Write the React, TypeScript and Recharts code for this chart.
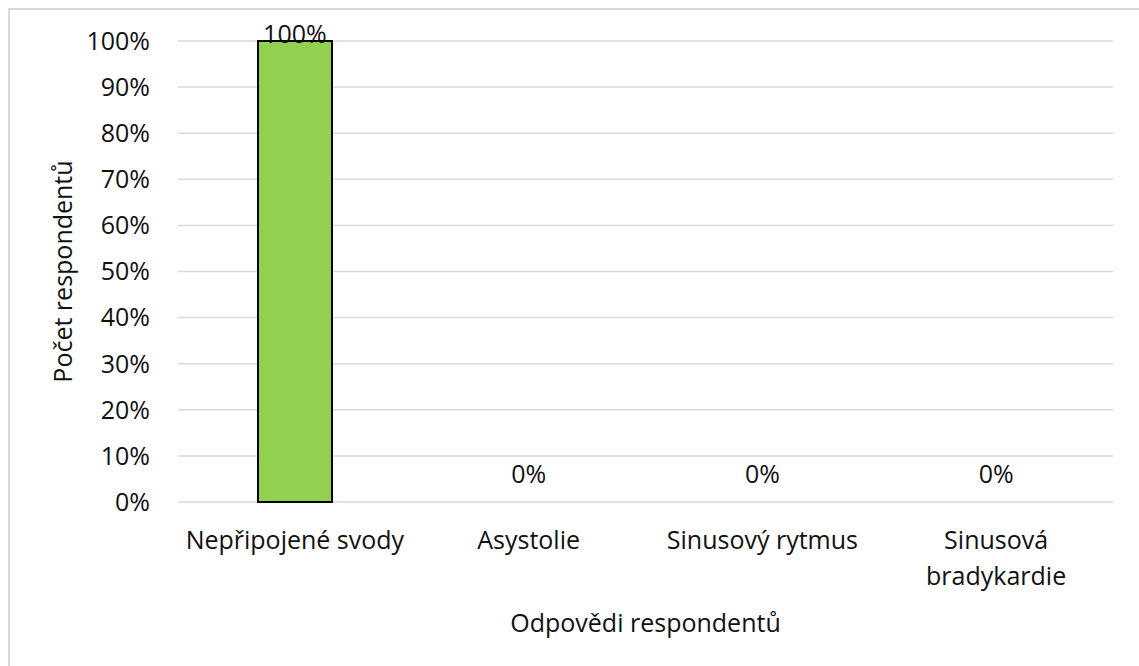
import { ComposedChart, Bar, Line, XAxis, YAxis, CartesianGrid, LabelList, Label } from "recharts"

const categories = ["Nepřipojené svody", "Asystolie", "Sinusový rytmus", "Sinusová bradykardie"]
const shares = [100, 0, 0, 0]
const yTicks = [0, 10, 20, 30, 40, 50, 60, 70, 80, 90, 100]

const data = categories.map((name, i) => ({ name, value: shares[i] }))

const font = "'Open Sans', sans-serif"
const fontSize = 25
const textColor = "#111"

// crude word wrap, Excel breaks the long label into two lines
function wrap(label: string, maxChars = 17) {
  const lines: string[] = []
  let cur = ""
  for (const w of label.split(" ")) {
    const next = cur ? cur + " " + w : w
    if (next.length > maxChars && cur) {
      lines.push(cur)
      cur = w
    } else {
      cur = next
    }
  }
  if (cur) lines.push(cur)
  return lines
}

function XTick(props: any) {
  const { x, y, payload } = props
  const lines = wrap(payload.value)
  return (
    <text x={x} y={y + 39} textAnchor="middle" fontFamily={font} fontSize={fontSize} fill={textColor}>
      {lines.map((l, i) => (
        <tspan key={i} x={x} dy={i === 0 ? 0 : 36}>
          {l}
        </tspan>
      ))}
    </text>
  )
}

function PointValue(props: any) {
  const { x, y, value } = props
  const cy = value === 0 ? y - 29 : y - 8
  return (
    <text
      x={x}
      y={cy}
      textAnchor="middle"
      dominantBaseline="central"
      fontFamily={font}
      fontSize={fontSize}
      fill={textColor}
    >
      {value}%
    </text>
  )
}

function YTitle(props: any) {
  const { viewBox } = props
  const cx = viewBox.x + 4
  const cy = viewBox.y + viewBox.height / 2
  return (
    <text
      x={cx}
      y={cy}
      transform={`rotate(-90 ${cx} ${cy})`}
      textAnchor="middle"
      dominantBaseline="central"
      fontFamily={font}
      fontSize={fontSize}
      fill={textColor}
    >
      Počet respondentů
    </text>
  )
}

function XTitle(props: any) {
  const { viewBox } = props
  const cx = viewBox.x + viewBox.width / 2
  return (
    <text
      x={cx}
      y={viewBox.y + 120}
      textAnchor="middle"
      dominantBaseline="central"
      fontFamily={font}
      fontSize={fontSize}
      fill={textColor}
    >
      Odpovědi respondentů
    </text>
  )
}

export default function App() {
  return (
    <div style={{ position: "absolute", left: 0, top: 0, width: 1139, height: 666, overflow: "hidden", background: "#fff" }}>
      <div
        style={{
          position: "absolute",
          left: 8,
          top: 8,
          width: 1160,
          height: 700,
          border: "2px solid #d9d9d9",
        }}
      />
      <ComposedChart
        width={1139}
        height={666}
        data={data}
        margin={{ top: 41, right: 26, bottom: 24, left: 58 }}
        style={{ position: "absolute", left: 0, top: 0 }}
      >
        <CartesianGrid vertical={false} stroke="#d9d9d9" strokeWidth={1.5} />
        <XAxis
          dataKey="name"
          axisLine={false}
          tickLine={false}
          height={140}
          interval={0}
          tick={<XTick />}
        >
          <Label content={<XTitle />} />
        </XAxis>
        <YAxis
          domain={[0, 100]}
          ticks={yTicks}
          axisLine={false}
          tickLine={false}
          tickSize={0}
          tickMargin={28}
          width={120}
          tickFormatter={(v: number) => `${v}%`}
          tick={{ fontFamily: font, fontSize: fontSize, fill: textColor }}
        >
          <Label content={<YTitle />} />
        </YAxis>
        <Bar dataKey="value" barSize={74} fill="#92D050" stroke="#000" strokeWidth={2} isAnimationActive={false} />
        <Line dataKey="value" stroke="none" dot={false} activeDot={false} isAnimationActive={false}>
          <LabelList dataKey="value" content={<PointValue />} />
        </Line>
      </ComposedChart>
    </div>
  )
}
